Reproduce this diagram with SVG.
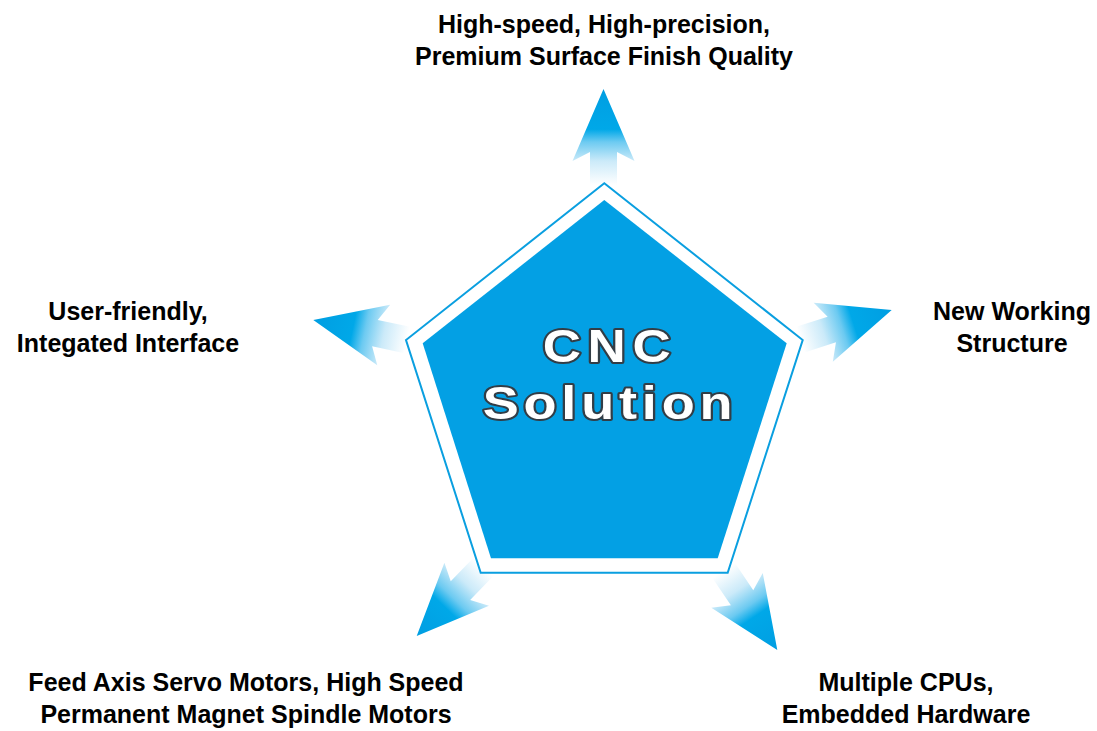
<svg xmlns="http://www.w3.org/2000/svg" width="1097" height="731" viewBox="0 0 1097 731">
  <defs>
    <linearGradient id="ag" gradientUnits="userSpaceOnUse" x1="0" y1="0" x2="0" y2="96">
      <stop offset="0" stop-color="#009ee2"/>
      <stop offset="0.42" stop-color="#00a8e8"/>
      <stop offset="0.55" stop-color="#6ccaf1"/>
      <stop offset="0.75" stop-color="#cbeaf9"/>
      <stop offset="1" stop-color="#ffffff"/>
    </linearGradient>
    <path id="arrow" d="M0,0 L31,72 L13.5,63 L13.5,96 L-13.5,96 L-13.5,63 L-31,72 Z"/>
  </defs>
  <style>
    .lbl { font-family: "Liberation Sans", Arial, sans-serif; font-weight: bold; font-size: 25px; fill: #000; text-anchor: middle; }
    .big { font-family: "Liberation Sans", Arial, sans-serif; font-weight: bold; fill: #ffffff; stroke: #323d46; stroke-width: 4; paint-order: stroke; stroke-linejoin: round; text-anchor: middle; }
    .arr { fill: url(#ag); }
  </style>
  <rect width="1097" height="731" fill="#ffffff"/>
  <g id="connectors">
    <use href="#arrow" class="arr" transform="translate(603.5,89)"/>
    <use href="#arrow" class="arr" transform="translate(891.7,310) rotate(72)"/>
    <use href="#arrow" class="arr" transform="translate(313.3,320) rotate(-78)"/>
    <use href="#arrow" class="arr" transform="translate(416.7,636) rotate(-136)"/>
    <use href="#arrow" class="arr" transform="translate(777.3,650) rotate(146)"/>
  </g>
  <g id="center">
    <polygon points="604.3,183.3 802.7,340 727.7,572.7 480.7,572.7 406,340" fill="#ffffff" stroke="#0a9fe0" stroke-width="2"/>
    <polygon points="604.3,200 786.7,343.3 717.7,558.3 491,558.3 422.7,343.3" fill="#03a0e4"/>
    <text class="big" transform="translate(610,362) scale(1.15,1)" x="0" y="0" font-size="46" letter-spacing="5.8">CNC</text>
    <text class="big" transform="translate(610,418.5) scale(1.15,1)" x="0" y="0" font-size="47" letter-spacing="4.2">Solution</text>
  </g>
  <g id="label-top">
    <text class="lbl" x="604" y="33">High-speed, High-precision,</text>
    <text class="lbl" x="604" y="65">Premium Surface Finish Quality</text>
  </g>
  <g id="label-right">
    <text class="lbl" x="1012" y="320">New Working</text>
    <text class="lbl" x="1012" y="352">Structure</text>
  </g>
  <g id="label-left">
    <text class="lbl" x="128" y="320">User-friendly,</text>
    <text class="lbl" x="128" y="352">Integated Interface</text>
  </g>
  <g id="label-bottom-left">
    <text class="lbl" x="246" y="691">Feed Axis Servo Motors, High Speed</text>
    <text class="lbl" x="246" y="723">Permanent Magnet Spindle Motors</text>
  </g>
  <g id="label-bottom-right">
    <text class="lbl" x="906" y="691">Multiple CPUs,</text>
    <text class="lbl" x="906" y="723">Embedded Hardware</text>
  </g>
</svg>
